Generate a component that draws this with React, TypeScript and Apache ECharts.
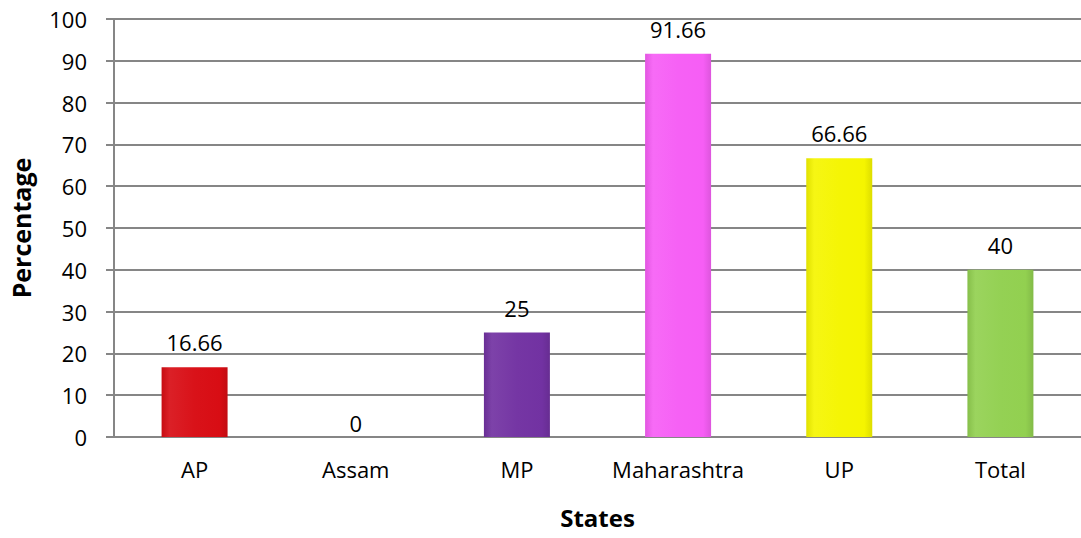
import React, { useEffect, useRef } from "react";
import * as echarts from "echarts";

const categories = ["AP", "Assam", "MP", "Maharashtra", "UP", "Total"];
const values = [16.66, 0, 25, 91.66, 66.66, 40];
const barColors = ["#d80d14", "#7030a0", "#7232a2", "#f65ef5", "#f5f500", "#92d050"];
const yTicks = [0, 10, 20, 30, 40, 50, 60, 70, 80, 90, 100];

function shade(hex: string, f: number): string {
  const n = parseInt(hex.slice(1), 16);
  let r = (n >> 16) & 255, g = (n >> 8) & 255, b = n & 255;
  const m = (c: number) => Math.max(0, Math.min(255, Math.round(f > 0 ? c + (255 - c) * f : c * (1 + f))));
  r = m(r); g = m(g); b = m(b);
  return "#" + ((1 << 24) + (r << 16) + (g << 8) + b).toString(16).slice(1);
}

export default function App() {
  const ref = useRef<HTMLDivElement>(null);
  useEffect(() => {
    const chart = echarts.init(ref.current!, null, { renderer: "svg" });
    const font = "'Open Sans', sans-serif";
    chart.setOption({
      animation: false,
      backgroundColor: "#ffffff",
      grid: { left: 113, top: 19, bottom: 101, width: 974, containLabel: false },
      xAxis: {
        type: "category",
        data: categories,
        name: "States",
        nameLocation: "middle",
        nameGap: 68,
        nameTextStyle: { fontFamily: font, fontSize: 24, fontWeight: "bold", color: "#000" },
        axisLine: { lineStyle: { color: "#868686", width: 2 } },
        axisTick: { show: false },
        axisLabel: { fontFamily: font, fontSize: 22, color: "#000", margin: 21, interval: 0, hideOverlap: false },
      },
      yAxis: {
        type: "value",
        min: 0,
        max: 100,
        interval: 10,
        name: "Percentage",
        nameLocation: "middle",
        nameGap: 81,
        nameTextStyle: { fontFamily: font, fontSize: 25, fontWeight: "bold", color: "#000" },
        axisLine: { show: true, lineStyle: { color: "#868686", width: 2 } },
        axisTick: { show: true, length: 8, lineStyle: { color: "#868686", width: 2 } },
        axisLabel: {
          fontFamily: font,
          fontSize: 22,
          color: "#000",
          margin: 27,
          formatter: (v: number) => (yTicks.includes(v) ? String(v) : ""),
        },
        splitLine: { lineStyle: { color: "#868686", width: 2 } },
      },
      series: [
        {
          type: "bar",
          barWidth: 66,
          data: values.map((v, i) => ({
            value: v,
            label: { distance: v === 0 ? 3 : 14 },
            itemStyle: {
              color: {
                type: "linear",
                x: 0, y: 0, x2: 1, y2: 0,
                colorStops: [
                  { offset: 0, color: shade(barColors[i], -0.08) },
                  { offset: 0.12, color: shade(barColors[i], 0.08) },
                  { offset: 0.5, color: shade(barColors[i], 0.02) },
                  { offset: 0.88, color: barColors[i] },
                  { offset: 1, color: shade(barColors[i], -0.1) },
                ],
              },
            },
          })),
          label: {
            show: true,
            position: "top",
            distance: 14,
            fontFamily: font,
            fontSize: 22,
            color: "#000",
          },
        },
      ],
    });
    return () => chart.dispose();
  }, []);
  return (
    <div
      ref={ref}
      style={{ position: "absolute", left: 0, top: 0, width: 1081, height: 538 }}
    />
  );
}
